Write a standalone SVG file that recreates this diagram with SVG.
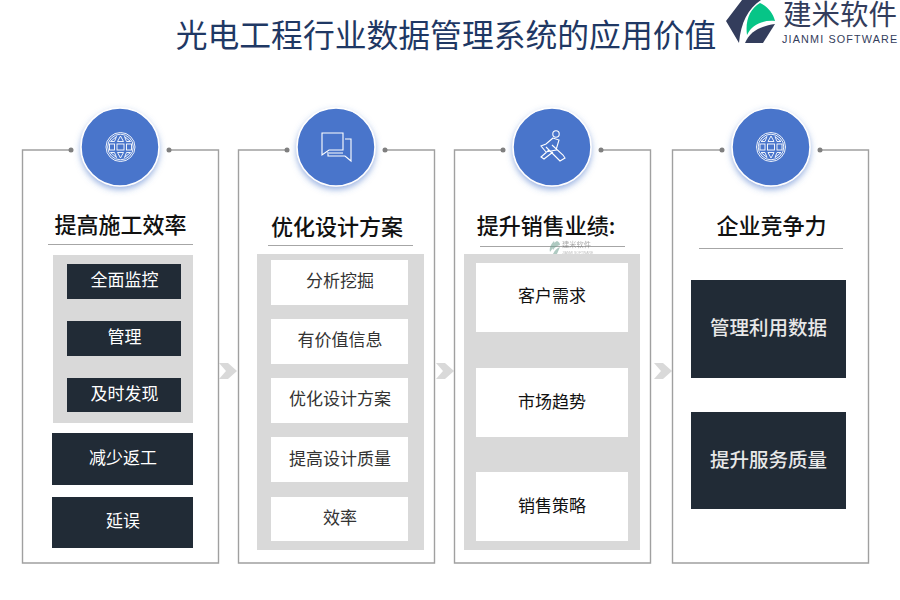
<svg xmlns="http://www.w3.org/2000/svg" width="900" height="600" viewBox="0 0 900 600">
<defs>
<filter id="sh" x="-30%" y="-30%" width="160%" height="160%"><feDropShadow dx="0" dy="3" stdDeviation="3" flood-color="#4874cb" flood-opacity="0.55"/></filter>
<g id="globe" fill="none" stroke="#fff" stroke-width="0.9">
<circle r="14.500"/><circle r="12.800"/>
<rect x="-3.500" y="-3" width="7" height="6"/><rect x="-11" y="-3" width="5" height="6"/><rect x="6" y="-3" width="5" height="6"/>
<path d="M-3-5.500 0-11 3-5.500ZM-3 5.500 0 11 3 5.500ZM-10-5.500-4-10.500-6-5.500ZM10-5.500 4-10.500 6-5.500ZM-10 5.500-4 10.500-6 5.500ZM10 5.500 4 10.500 6 5.500Z"/>
</g>
<path id="chev" d="M0 0H9L18 8 9 16H0L7 8Z" fill="#d9d9d9"/>
</defs>
<style>
.t{font-family:"Noto Sans CJK SC","Noto Sans",sans-serif;text-anchor:middle}
.panel{fill:none;stroke:#a0a0a0;stroke-width:1.4}
.dot{fill:#7f7f7f}
.ul{stroke:#a6a6a6;stroke-width:1}
.c{fill:#4874cb;stroke:#fff;stroke-width:1.5;filter:url(#sh)}
.h{font-size:22px;fill:#111;font-weight:500}
.g{fill:#d9d9d9}.d{fill:#212b36}.w{fill:#fff}
.dt{font-size:17px;fill:#fff}
.wt{font-size:17px;fill:#333}
.bt{font-size:17px;fill:#111}
.lt{font-size:19.500px;fill:#e8e8e8;font-weight:500}
</style>
<rect width="900" height="600" fill="#fff"/>
<g id="title"><text class="t" x="446" y="47" font-size="31.800" fill="#1f3864">光电工程行业数据管理系统的应用价值</text></g>
<g id="logo">
<path d="M742 0H761C748 9 741 22 739 43L726 21Z" fill="#333d5c"/>
<path d="M760 3C768 7 773 13 775 21 763 20 752 24 747 35 745 20 750 9 760 3Z" fill="#06c587"/>
<path d="M775 24 763 43H745C750 31 761 26 775 24Z" fill="#333d5c"/>
<text class="t" x="840" y="25" font-size="28.500" fill="#333d5c">建米软件</text>
<text x="782" y="42.500" font-family="'Liberation Sans',sans-serif" font-size="10.800" letter-spacing="1.150" fill="#333d5c">JIANMI SOFTWARE</text>
</g>
<g id="connectors">
<use href="#chev" x="219" y="363"/><use href="#chev" x="436" y="363"/><use href="#chev" x="654" y="363"/>
</g>
<g id="panel1">
<path class="panel" d="M71 150H22.500V563H218.500V150H169"/>
<circle class="dot" cx="71" cy="150" r="2.500"/><circle class="dot" cx="169" cy="150" r="2.500"/>
<circle class="c" cx="120" cy="147" r="39"/><use href="#globe" x="120.500" y="147"/>
<text class="t h" x="120.500" y="233">提高施工效率</text>
<line class="ul" x1="48" y1="244.500" x2="193" y2="244.500"/>
<rect class="g" x="53" y="255" width="140" height="168"/>
<rect class="d" x="67" y="264" width="114" height="35"/><text class="t dt" x="124.500" y="286">全面监控</text>
<rect class="d" x="67" y="321" width="114" height="35"/><text class="t dt" x="124.500" y="343">管理</text>
<rect class="d" x="67" y="378" width="114" height="34"/><text class="t dt" x="124.500" y="400">及时发现</text>
<rect class="d" x="52" y="433" width="141" height="52"/><text class="t dt" x="123" y="464">减少返工</text>
<rect class="d" x="52" y="497" width="141" height="51"/><text class="t dt" x="123" y="527">延误</text>
</g>
<g id="panel2">
<path class="panel" d="M287 150H238.500V563H434.500V150H385"/>
<circle class="dot" cx="287" cy="150" r="2.500"/><circle class="dot" cx="385" cy="150" r="2.500"/>
<circle class="c" cx="336" cy="147" r="39"/>
<path d="M322 133H343V150H329L322 155V134Z M345 139H351V161L345 156H328V152M329 153H343" fill="none" stroke="#fff" stroke-width="1.100"/>
<text class="t h" x="337" y="235">优化设计方案</text>
<line class="ul" x1="268" y1="245.500" x2="413" y2="245.500"/>
<rect class="g" x="257" y="254" width="167" height="296"/>
<rect class="w" x="271" y="260" width="137" height="45"/><text class="t wt" x="340" y="287">分析挖掘</text>
<rect class="w" x="271" y="319" width="137" height="45"/><text class="t wt" x="340" y="346">有价值信息</text>
<rect class="w" x="271" y="378" width="137" height="45"/><text class="t wt" x="340" y="405">优化设计方案</text>
<rect class="w" x="271" y="437" width="137" height="45"/><text class="t wt" x="340" y="465">提高设计质量</text>
<rect class="w" x="271" y="497" width="137" height="44"/><text class="t wt" x="340" y="524">效率</text>
</g>
<g id="panel3">
<path class="panel" d="M503 150H454.500V563H650.500V150H601"/>
<circle class="dot" cx="503" cy="150" r="2.500"/><circle class="dot" cx="601" cy="150" r="2.500"/>
<circle class="c" cx="552" cy="147" r="39"/>
<g fill="none" stroke="#fff" stroke-width="1.100"><circle cx="556" cy="134" r="3.200"/><path d="M553 138 546 144 541 146 546 152 556 150 559 140ZM549 150 541 157 544 159 553 152M546 147 560 161 565 158 563 155 552 145"/></g>
<text class="t h" x="546" y="234">提升销售业绩:</text>
<line class="ul" x1="480" y1="246.500" x2="625" y2="246.500"/>
<rect class="g" x="464" y="254" width="176" height="296"/>
<rect class="w" x="476" y="263" width="152" height="69"/><text class="t bt" x="552" y="302">客户需求</text>
<rect class="w" x="476" y="368" width="152" height="69"/><text class="t bt" x="552" y="408">市场趋势</text>
<rect class="w" x="476" y="472" width="152" height="69"/><text class="t bt" x="552" y="512">销售策略</text>
</g>
<g id="watermark" opacity="0.55">
<path d="M554 241C551 244 549 248 550 252L555 245ZM557 241C553 243 552 247 553 250 555 247 557 246 560 245 560 243 559 242 557 241ZM560 247C557 248 555 250 553 254H557Z" fill="#6f9f90"/>
<text class="t" x="576.500" y="247" font-size="7.200" fill="#666">建米软件</text>
<text x="562" y="253.500" font-family="'Liberation Sans',sans-serif" font-size="3.400" fill="#888">JIANMI SOFTWARE</text>
</g>
<g id="panel4">
<path class="panel" d="M722 150H672.500V563H868.500V150H820"/>
<circle class="dot" cx="722" cy="150" r="2.500"/><circle class="dot" cx="820" cy="150" r="2.500"/>
<circle class="c" cx="771" cy="147" r="39"/><use href="#globe" x="771" y="147"/>
<text class="t h" x="771.500" y="234">企业竞争力</text>
<line class="ul" x1="699" y1="248.500" x2="843" y2="248.500"/>
<rect class="d" x="691" y="280" width="155" height="98"/><text class="t lt" x="768.500" y="335">管理利用数据</text>
<rect class="d" x="691" y="412" width="155" height="97"/><text class="t lt" x="768.500" y="467">提升服务质量</text>
</g>
</svg>
